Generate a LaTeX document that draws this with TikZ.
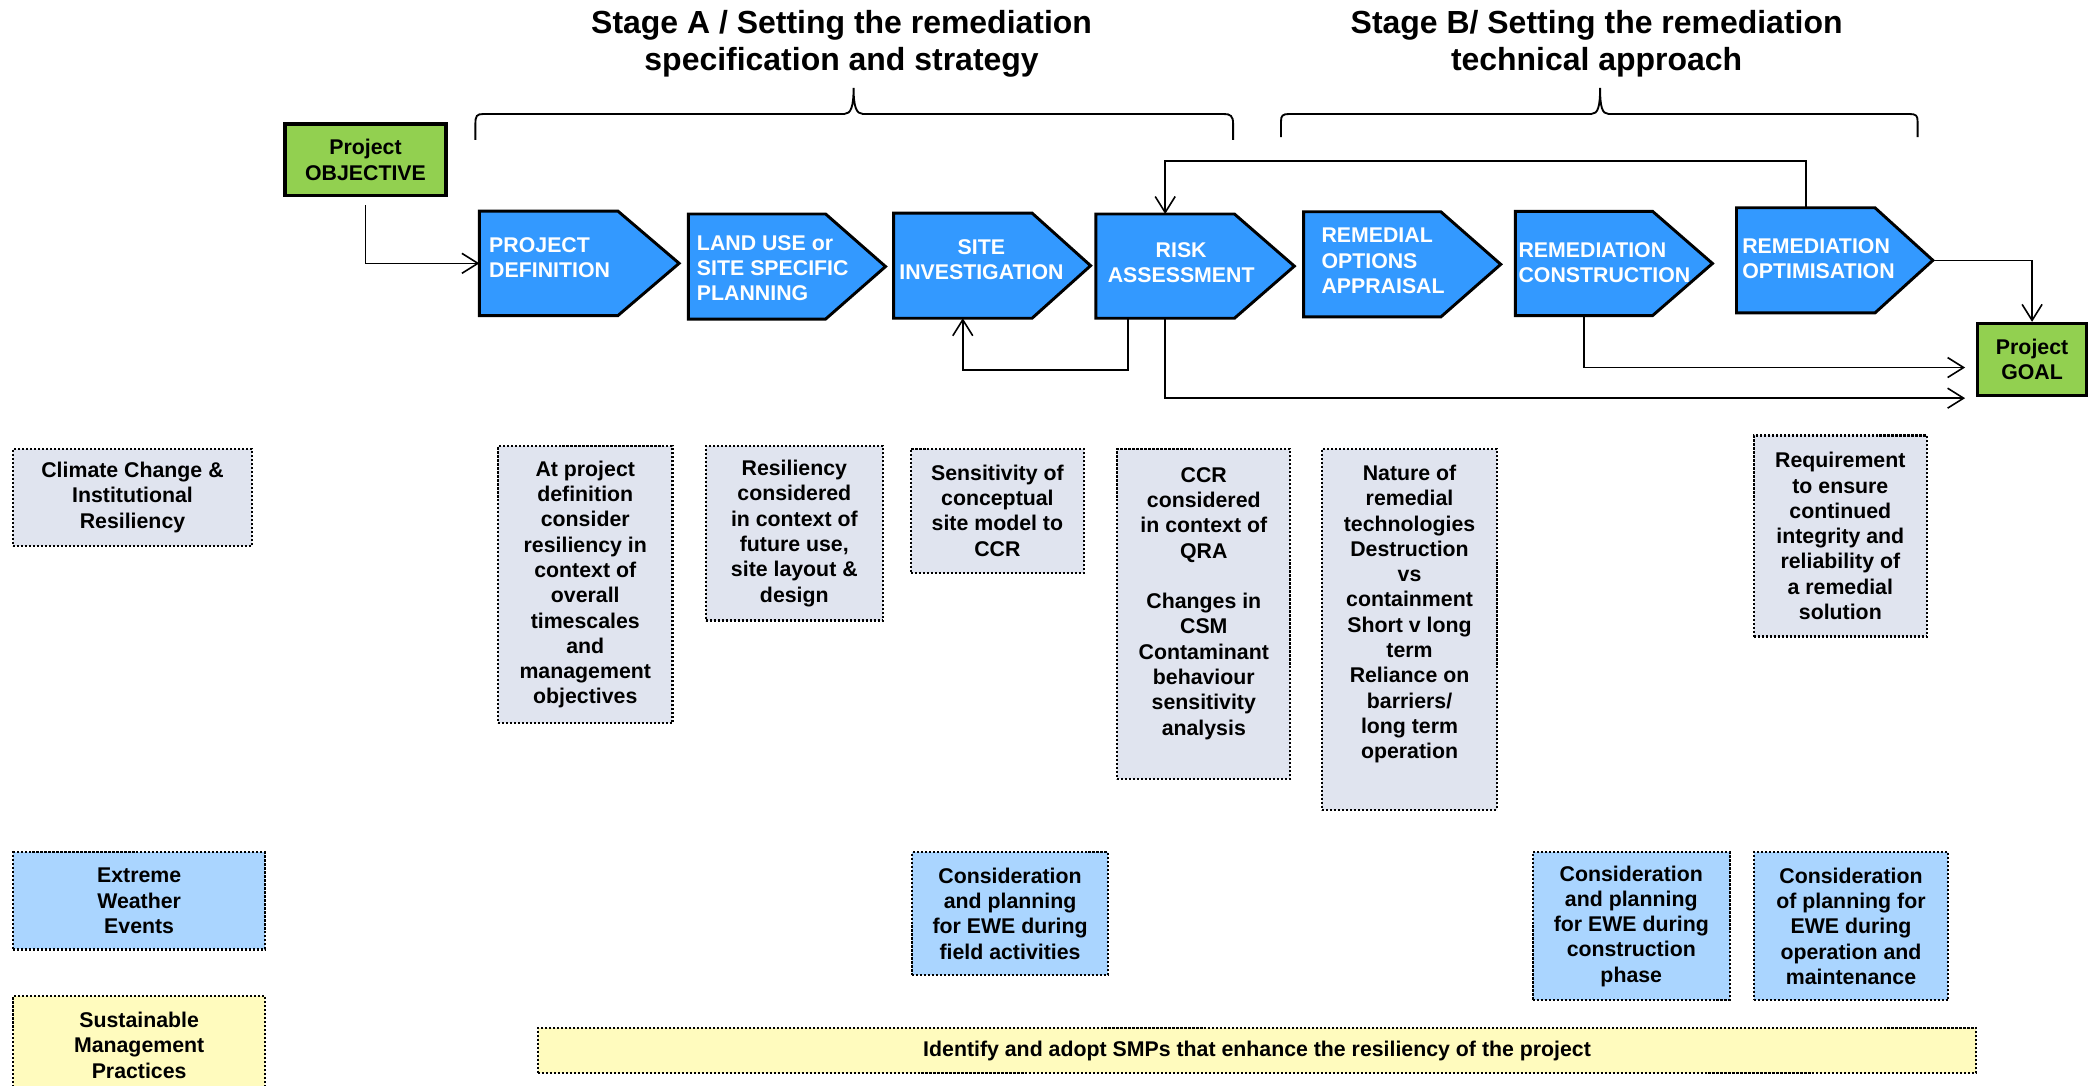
\documentclass[tikz,border=0pt]{standalone}
\usepackage{fontspec}
\setmainfont{Liberation Sans}
\usetikzlibrary{arrows.meta,calc,fit}
\definecolor{cblue}{RGB}{51,153,255}
\definecolor{cgreen}{RGB}{146,208,80}
\definecolor{cgrey}{RGB}{224,228,239}
\definecolor{clblue}{RGB}{170,213,255}
\definecolor{cyel}{RGB}{255,251,190}
\newcommand\myblk[2]{\draw[blkd] (#1.north west) -- (#1.north east) -- ($(#1.east)+(#2,0)$) -- (#1.south east) -- (#1.south west) -- cycle;}
\begin{document}
\begin{tikzpicture}[x=0.5pt,y=-0.5pt,
 conn/.style={line width=0.6pt, -{Straight Barb[length=6pt,width=7.5pt]}},
 brc/.style={line width=0.7pt},
 blkd/.style={draw=black, line width=1.1pt, fill=cblue, line join=miter},
 hold/.style={inner sep=0pt, outer sep=0pt},
 btxt/.style={text=white, font=\bfseries\fontsize{8}{9.5}\selectfont, inner sep=0pt, align=left},
 gbox/.style={draw=black, line width=1.3pt, fill=cgreen, inner sep=0pt, align=center, font=\bfseries\fontsize{8}{9.5}\selectfont},
 dbox/.style={draw=black, line width=0.8pt, dash pattern=on 0.8pt off 0.7pt, inner sep=0pt, align=center, font=\bfseries\fontsize{8}{9.5}\selectfont},
 sz/.style 2 args={minimum width=#1, minimum height=#2},
 ttl/.style={font=\bfseries\fontsize{12}{14}\selectfont, align=center, inner sep=0pt}]
\useasboundingbox[fill=white] (0,0) rectangle (1568,815);

% titles
\node[ttl] (tA) at (632,33) {Stage A / Setting the remediation\\specification and strategy};
\node[ttl] (tB) at (1199,33) {Stage B/ Setting the remediation\\technical approach};

% braces
\draw[brc] (357,105) -- (357,93) .. controls (357,87) and (358,85.6) .. (363,85.6) -- (634,85.6) .. controls (639,85.6) and (641,80) .. (641,66) .. controls (641,80) and (643,85.6) .. (648,85.6) -- (919,85.6) .. controls (924,85.6) and (926,87) .. (926,93) -- (926,105);
\draw[brc] (962,103) -- (962,91) .. controls (962,87) and (963,85.6) .. (968,85.6) -- (1195,85.6) .. controls (1200,85.6) and (1201.6,80) .. (1201.6,66) .. controls (1201.6,80) and (1203,85.6) .. (1208,85.6) -- (1434,85.6) .. controls (1439,85.6) and (1440,87) .. (1440,91) -- (1440,103);

% objective and goal
\node[gbox, sz={60.5pt}{27pt}] (obj) at (274.5,120) {Project\\OBJECTIVE};
\node[gbox, sz={41pt}{27pt}] (goal) at (1526,270) {Project\\GOAL};

% process blocks
\node[hold, fit={(360,158.5) (464,237)}] (pd) {};
\myblk{pd}{46}
\node[btxt, anchor=west] (pdT) at (367,193.5) {PROJECT\\DEFINITION};

\node[hold, fit={(517,160.7) (620,239.6)}] (lu) {};
\myblk{lu}{45}
\node[btxt, anchor=west] (luT) at (523,201.5) {LAND USE or\\SITE SPECIFIC\\PLANNING};

\node[hold, fit={(671,160) (775,239)}] (si) {};
\myblk{si}{44}
\node[btxt, align=center] (siT) at (737,195) {SITE\\INVESTIGATION};

\node[hold, fit={(823,160.7) (927,239)}] (ra) {};
\myblk{ra}{45}
\node[btxt, align=center] (raT) at (887,197.5) {RISK\\ASSESSMENT};

\node[hold, fit={(979,159) (1082,238)}] (ro) {};
\myblk{ro}{45}
\node[btxt, anchor=west] (roT) at (992,196) {REMEDIAL\\OPTIONS\\APPRAISAL};

\node[hold, fit={(1138,158.7) (1241,237)}] (rc) {};
\myblk{rc}{45}
\node[btxt, anchor=west] (rcT) at (1140,197.5) {REMEDIATION\\CONSTRUCTION};

\node[hold, fit={(1304,156) (1408,235)}] (opt) {};
\myblk{opt}{43.5}
\node[btxt, anchor=west] (optT) at (1308,194.5) {REMEDIATION\\OPTIMISATION};

% connectors
\coordinate (g1) at ($(goal.west)+(-8,6)$);
\coordinate (g2) at ($(goal.west)+(-8,29)$);
\draw[conn] ($(obj.south)+(0,6)$) |- (pd.west);
\draw[conn] (opt.north) -- ++(0,-35.3) -| (ra.north);
\draw[conn] ($(ra.south west)+(24,0)$) -- ++(0,39) -| (si.south);
\draw[conn] (ra.south) |- (g2);
\draw[conn] (rc.south) |- (g1);
\draw[conn] ($(opt.east)+(43.5,0)$) -| (goal.north);

% row labels
\node[dbox, fill=cgrey, sz={89.5pt}{36.5pt}] (cc) at (99.5,373.5) {Climate Change \&\\Institutional\\Resiliency};
\node[dbox, fill=clblue, sz={94.5pt}{36.5pt}] (ewe) at (104.5,676.5) {Extreme\\Weather\\Events};
\node[dbox, fill=cyel, sz={94.5pt}{37pt}] (smp) at (104.5,785) {Sustainable\\Management\\Practices};

% climate change boxes
\node[dbox, fill=cgrey, sz={65.5pt}{104pt}] (c1) at (439.5,439) {At project\\definition\\consider\\resiliency in\\context of\\overall\\timescales\\and\\management\\objectives};
\node[dbox, fill=cgrey, sz={66.5pt}{65.5pt}] (c2) at (596.5,400.5) {Resiliency\\considered\\in context of\\future use,\\site layout \&\\design};
\node[dbox, fill=cgrey, sz={65pt}{46.5pt}] (c3) at (749,383.5) {Sensitivity of\\conceptual\\site model to\\CCR};
\node[dbox, fill=cgrey, sz={65pt}{124pt}] (c4) at (904,461) {CCR\\considered\\in context of\\QRA\\[9.5pt]Changes in\\CSM\\Contaminant\\behaviour\\sensitivity\\analysis\\ \mbox{}};
\node[dbox, fill=cgrey, sz={65.5pt}{135.5pt}] (c5) at (1058.5,472.5) {Nature of\\remedial\\technologies\\Destruction\\vs\\containment\\Short v long\\term\\Reliance on\\barriers/\\long term\\operation\\[3.5pt]\mbox{}};
\node[dbox, fill=cgrey, sz={65pt}{75.5pt}] (c6) at (1382,402.5) {Requirement\\to ensure\\continued\\integrity and\\reliability of\\a remedial\\solution};

% EWE boxes
\node[dbox, fill=clblue, sz={73.5pt}{46pt}] (e1) at (758.5,686) {Consideration\\and planning\\for EWE during\\field activities};
\node[dbox, fill=clblue, sz={74pt}{55.5pt}] (e2) at (1225,695.5) {Consideration\\and planning\\for EWE during\\construction\\phase};
\node[dbox, fill=clblue, sz={73pt}{55.5pt}] (e3) at (1390,695.5) {Consideration\\of planning for\\EWE during\\operation and\\maintenance};

% SMP bar
\node[dbox, fill=cyel, sz={540pt}{17pt}] (s1) at (944,789) {Identify and adopt SMPs that enhance the resiliency of the project};
\end{tikzpicture}
\end{document}
